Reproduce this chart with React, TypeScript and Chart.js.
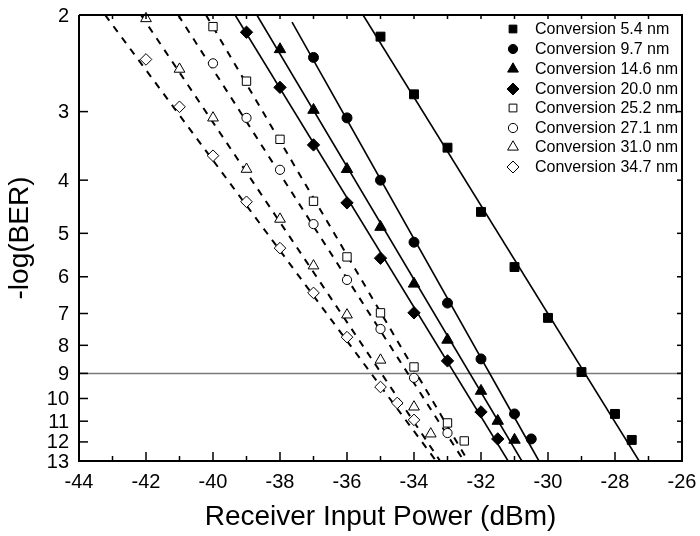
import React, { useEffect, useRef } from 'react';
import { Chart, registerables } from 'chart.js';

Chart.register(...registerables);

const FONT = "'Liberation Sans', Arial, Helvetica, sans-serif";

// Axis ticks
const xTicks = [-44, -42, -40, -38, -36, -34, -32, -30, -28, -26];
const xMinorTicks = [-43, -41, -39, -37, -35, -33, -31, -29, -27];
const yTicks = [2, 3, 4, 5, 6, 7, 8, 9, 10, 11, 12, 13];

// Series labels
const seriesLabels = [
  'Conversion 5.4 nm',
  'Conversion 9.7 nm',
  'Conversion 14.6 nm',
  'Conversion 20.0 nm',
  'Conversion 25.2 nm',
  'Conversion 27.1 nm',
  'Conversion 31.0 nm',
  'Conversion 34.7 nm',
];

// Measured points: receiver power (dBm) and -log(BER)
const power5_4 = [-35, -34, -33, -32, -31, -30, -29, -28, -27.5];
const ber5_4 = [2.19, 2.79, 3.49, 4.57, 5.76, 7.13, 8.95, 10.67, 11.9];

const power9_7 = [-37, -36, -35, -34, -33, -32, -31, -30.5];
const ber9_7 = [2.39, 3.08, 4.0, 5.19, 6.7, 8.47, 10.67, 11.85];

const power14_6 = [-38, -37, -36, -35, -34, -33, -32, -31.5, -31];
const ber14_6 = [2.31, 2.98, 3.82, 4.87, 6.18, 7.82, 9.69, 10.99, 11.9];

const power20_0 = [-39, -38, -37, -36, -35, -34, -33, -32, -31.5];
const ber20_0 = [2.15, 2.71, 3.45, 4.4, 5.55, 6.98, 8.54, 10.58, 11.85];

const power25_2 = [-40, -39, -38, -37, -36, -35, -34, -33, -32.5];
const ber25_2 = [2.1, 2.64, 3.37, 4.37, 5.52, 6.98, 8.76, 11.08, 11.95];

const power27_1 = [-40, -39, -38, -37, -36, -35, -34, -33];
const ber27_1 = [2.45, 3.08, 3.83, 4.81, 6.08, 7.47, 9.17, 11.56];

const power31_0 = [-42, -41, -40, -39, -38, -37, -36, -35, -34, -33.5];
const ber31_0 = [2.03, 2.51, 3.08, 3.82, 4.71, 5.73, 7.04, 8.51, 10.36, 11.6];

const power34_7 = [-42, -41, -40, -39, -38, -37, -36, -35, -34.5, -34];
const ber34_7 = [2.41, 2.94, 3.61, 4.38, 5.32, 6.42, 7.73, 9.53, 10.19, 10.94];

// Fitted lines (end points)
const fitPower5_4 = [-35.52, -27.28];
const fitBer5_4 = [2, 13];
const fitPower9_7 = [-37.64, -30.27];
const fitBer9_7 = [2.06, 13];
const fitPower14_6 = [-38.69, -30.78];
const fitBer14_6 = [2, 13];
const fitPower20_0 = [-39.34, -31.19];
const fitBer20_0 = [2, 13];
const fitPower25_2 = [-40.21, -32.39];
const fitBer25_2 = [2, 13];
const fitPower27_1 = [-41.04, -32.51];
const fitBer27_1 = [2, 13];
const fitPower31_0 = [-42.15, -33.22];
const fitBer31_0 = [2, 13];
const fitPower34_7 = [-43.22, -33.34];
const fitBer34_7 = [2, 13];

// BER 1e-9 reference line
const refPower = [-44, -26];
const refBer = [9, 9];

const seriesPower = [power5_4, power9_7, power14_6, power20_0, power25_2, power27_1, power31_0, power34_7];
const seriesBer = [ber5_4, ber9_7, ber14_6, ber20_0, ber25_2, ber27_1, ber31_0, ber34_7];
const fitPowers = [fitPower5_4, fitPower9_7, fitPower14_6, fitPower20_0, fitPower25_2, fitPower27_1, fitPower31_0, fitPower34_7];
const fitBers = [fitBer5_4, fitBer9_7, fitBer14_6, fitBer20_0, fitBer25_2, fitBer27_1, fitBer31_0, fitBer34_7];

const styles = ['rect', 'circle', 'triangle', 'rectRot', 'rect', 'circle', 'triangle', 'rectRot'];
const filled = [true, true, true, true, false, false, false, false];
const radii: Record<string, number> = { rect: 6.3, circle: 5, triangle: 6.6, rectRot: 6.2 };
const legendRadii: Record<string, number> = { rect: 5.5, circle: 4.6, triangle: 6.2, rectRot: 6 };

function toPoints(xs: number[], ys: number[]) {
  return xs.map((x, i) => ({ x, y: ys[i] }));
}

function drawMarker(ctx: CanvasRenderingContext2D, style: string, x: number, y: number, r: number, fill: boolean) {
  ctx.save();
  ctx.beginPath();
  if (style === 'rect') {
    const s = r * Math.SQRT1_2;
    ctx.rect(x - s, y - s, 2 * s, 2 * s);
  } else if (style === 'circle') {
    ctx.arc(x, y, r, 0, Math.PI * 2);
  } else if (style === 'triangle') {
    ctx.moveTo(x, y - r);
    ctx.lineTo(x + 0.866 * r, y + 0.5 * r);
    ctx.lineTo(x - 0.866 * r, y + 0.5 * r);
    ctx.closePath();
  } else {
    ctx.moveTo(x, y - r);
    ctx.lineTo(x + r, y);
    ctx.lineTo(x, y + r);
    ctx.lineTo(x - r, y);
    ctx.closePath();
  }
  ctx.fillStyle = fill ? '#000' : '#fff';
  ctx.fill();
  ctx.lineWidth = 1;
  ctx.strokeStyle = '#000';
  ctx.stroke();
  ctx.restore();
}

const legendPlugin = {
  id: 'insideLegend',
  afterDraw(chart: any) {
    const ctx: CanvasRenderingContext2D = chart.ctx;
    const xs = chart.scales.x;
    const ys = chart.scales.y;
    ctx.save();
    // y tick labels, right-aligned left of the frame
    ctx.font = `20px ${FONT}`;
    ctx.textBaseline = 'middle';
    ctx.textAlign = 'right';
    ctx.fillStyle = '#000';
    yTicks.forEach((v) => {
      ctx.fillText(String(v), xs.left - 10, ys.getPixelForValue(v) + 1);
    });
    // legend
    const lx = 513;
    const tx = 535;
    const rowY = [29, 49, 69, 89, 108, 128, 147, 167];
    ctx.font = `16px ${FONT}`;
    ctx.textAlign = 'left';
    seriesLabels.forEach((lab, i) => {
      drawMarker(ctx, styles[i], lx, rowY[i], legendRadii[styles[i]], filled[i]);
      ctx.fillStyle = '#000';
      ctx.fillText(lab, tx, rowY[i] + 1);
    });
    ctx.restore();
  },
};

export default function App() {
  const ref = useRef<HTMLCanvasElement | null>(null);

  useEffect(() => {
    if (!ref.current) return;

    const xMin = xTicks[0];
    const xMax = xTicks[xTicks.length - 1];
    const yMin = yTicks[0];
    const yMax = yTicks[yTicks.length - 1];
    const allX = [...xTicks, ...xMinorTicks];

    const tickSet = (pts: { x: number; y: number }[], r: number, rot: number) => ({
      label: 'tick',
      data: pts,
      showLine: false,
      pointStyle: 'line',
      pointRadius: r,
      pointHoverRadius: r,
      pointRotation: rot,
      pointBorderColor: '#000',
      pointBorderWidth: 1.5,
      clip: 0,
      order: 0,
    });

    const datasets: any[] = [];
    // frame
    datasets.push({
      label: 'frame',
      data: toPoints([xMin, xMax, xMax, xMin, xMin], [yMin, yMin, yMax, yMax, yMin]),
      showLine: true,
      borderColor: '#000',
      borderWidth: 2,
      pointRadius: 0,
      clip: 3,
      order: 0,
    });
    datasets.push(tickSet(xTicks.map((x) => ({ x, y: yMax })), 9, 90));
    datasets.push(tickSet(xMinorTicks.map((x) => ({ x, y: yMax })), 5, 90));
    datasets.push(tickSet(allX.map((x) => ({ x, y: yMin })), 4, 90));
    datasets.push(tickSet(yTicks.map((y) => ({ x: xMin, y })), 9, 0));
    datasets.push(tickSet(yTicks.map((y) => ({ x: xMax, y })), 5, 0));

    datasets.push({
      label: 'BER 1e-9',
      data: toPoints(refPower, refBer),
      showLine: true,
      borderColor: '#7a7a7a',
      borderWidth: 1.5,
      pointRadius: 0,
      order: 10,
    });
    fitPowers.forEach((fp, i) => {
      datasets.push({
        label: seriesLabels[i] + ' fit',
        data: toPoints(fp, fitBers[i]),
        showLine: true,
        borderColor: '#000',
        borderWidth: filled[i] ? 1.6 : 2,
        borderDash: filled[i] ? [] : [7, 7],
        pointRadius: 0,
        order: 5,
      });
    });
    seriesPower.forEach((sp, i) => {
      const st = styles[i];
      datasets.push({
        label: seriesLabels[i],
        data: toPoints(sp, seriesBer[i]),
        showLine: false,
        pointStyle: st,
        pointRadius: filled[i] ? radii[st] : radii[st] - 0.4,
        pointHoverRadius: radii[st],
        pointBackgroundColor: filled[i] ? '#000' : '#fff',
        pointBorderColor: '#000',
        pointBorderWidth: 1,
        clip: 10,
        order: 1,
      });
    });

    const tickFont = { family: FONT, size: 20 };
    const titleFont = { family: FONT, size: 28 };
    const zeroPad = (scale: any) => {
      scale.paddingTop = 0;
      scale.paddingBottom = 0;
      scale.paddingLeft = 0;
      scale.paddingRight = 0;
    };

    const chart = new Chart(ref.current, {
      type: 'scatter',
      data: { datasets },
      options: {
        animation: false,
        responsive: false,
        layout: { padding: { left: 0, top: 15, right: 18, bottom: 0 } },
        plugins: { legend: { display: false }, tooltip: { enabled: false } },
        scales: {
          x: {
            type: 'linear',
            min: xMin,
            max: xMax,
            grid: { display: false, drawTicks: false },
            border: { display: false },
            afterBuildTicks: (scale: any) => {
              scale.ticks = xTicks.map((v) => ({ value: v }));
            },
            afterFit: (scale: any) => {
              scale.height = 75;
              zeroPad(scale);
            },
            ticks: {
              font: tickFont,
              color: '#000',
              padding: 9,
              maxRotation: 0,
              autoSkip: false,
              callback: (v: any) => String(v),
            },
            title: {
              display: true,
              text: 'Receiver Input Power (dBm)',
              font: titleFont,
              color: '#000',
              padding: { top: 0, bottom: 2 },
            },
          },
          y: {
            type: 'logarithmic',
            reverse: true,
            min: yMin,
            max: yMax,
            grid: { display: false, drawTicks: false },
            border: { display: false },
            afterBuildTicks: (scale: any) => {
              scale.ticks = yTicks.map((v) => ({ value: v }));
            },
            afterFit: (scale: any) => {
              scale.width = 79;
              zeroPad(scale);
            },
            ticks: { display: false },
            title: {
              display: true,
              text: '-log(BER)',
              font: titleFont,
              color: '#000',
              padding: { top: 3, bottom: 0 },
            },
          },
        },
      } as any,
      plugins: [legendPlugin],
    });
    return () => chart.destroy();
  }, []);

  return (
    <div style={{ position: 'absolute', left: 0, top: 0, width: 700, height: 536 }}>
      <canvas ref={ref} width={700} height={536} style={{ display: 'block', width: 700, height: 536 }} />
    </div>
  );
}
